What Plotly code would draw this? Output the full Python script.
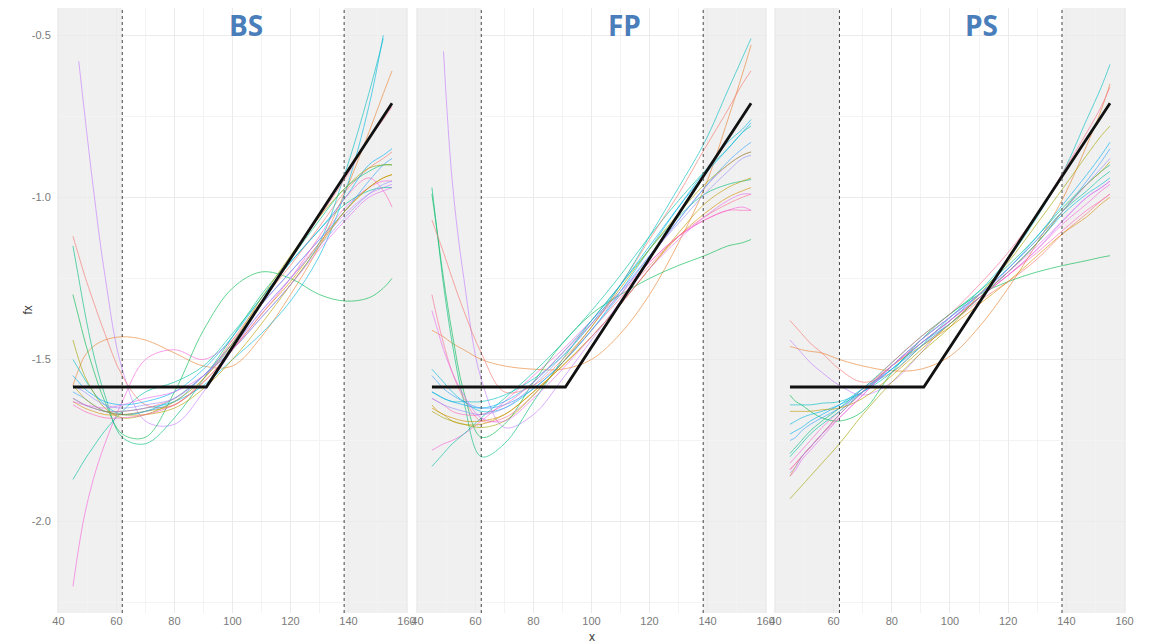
import plotly.graph_objects as go
from plotly.subplots import make_subplots

# x positions at which every fitted curve is evaluated
X_GRID = [45, 47, 49, 52, 56, 62, 70, 80, 90, 100, 110, 120, 130, 139, 147, 152, 155]

# true function: flat, then linear
TRUTH_X = [45, 91, 155]
TRUTH_Y = [-1.585, -1.585, -0.71]

# boundary quantiles (dotted lines, shaded tails)
BOUND_LO = 62
BOUND_HI = 138.5

PANELS = ["BS", "FP", "PS"]

# ggplot-style hue palette, 20 replicates
HUE = ["#F8766D", "#EA8331", "#D89000", "#C09B00", "#A3A500", "#7CAE00", "#39B600",
       "#00BB4E", "#00BF7D", "#00C1A3", "#00BFC4", "#00BAE0", "#00B0F6", "#35A2FF",
       "#9590FF", "#C77CFF", "#E76BF3", "#FA62DB", "#FF62BC", "#FF6C91"]

# replicate (colour index) for each fitted curve, same order in every panel
REPLICATES = [15, 17, 1, 7, 9, 8, 0, 10, 11, 2, 19, 12, 13, 4, 3, 18, 16, 14]

BS_FITS = [
    [None, -0.58, -0.74, -0.97, -1.24, -1.53, -1.69, -1.70, -1.60, -1.47, -1.35, -1.25, -1.14, -1.05, -0.99, -0.97, -0.96],
    [-2.20, -2.08, -1.98, -1.87, -1.76, -1.63, -1.50, -1.47, -1.50, -1.44, -1.33, -1.23, -1.13, -1.03, -0.97, -0.95, -0.95],
    [-1.58, -1.53, -1.49, -1.46, -1.44, -1.43, -1.44, -1.48, -1.52, -1.52, -1.43, -1.30, -1.15, -0.98, -0.80, -0.68, -0.61],
    [-1.30, -1.37, -1.44, -1.53, -1.63, -1.73, -1.74, -1.60, -1.41, -1.28, -1.23, -1.25, -1.30, -1.32, -1.31, -1.28, -1.25],
    [-1.87, -1.84, -1.81, -1.77, -1.72, -1.66, -1.60, -1.57, -1.52, -1.42, -1.31, -1.20, -1.10, -1.02, -0.98, -0.97, -0.97],
    [-1.15, -1.25, -1.35, -1.48, -1.61, -1.74, -1.76, -1.68, -1.56, -1.43, -1.30, -1.19, -1.07, -0.97, -0.92, -0.90, -0.90],
    [-1.12, -1.18, -1.24, -1.32, -1.42, -1.55, -1.64, -1.64, -1.56, -1.44, -1.32, -1.21, -1.09, -0.98, -0.91, -0.88, -0.86],
    [-1.50, -1.53, -1.56, -1.60, -1.64, -1.67, -1.66, -1.62, -1.55, -1.47, -1.37, -1.27, -1.14, -0.92, -0.68, -0.51, None],
    [-1.62, -1.63, -1.64, -1.65, -1.66, -1.66, -1.65, -1.63, -1.58, -1.50, -1.42, -1.32, -1.18, -0.98, -0.72, -0.50, None],
    [-1.63, -1.64, -1.65, -1.66, -1.67, -1.67, -1.66, -1.64, -1.57, -1.47, -1.36, -1.26, -1.14, -1.04, -0.97, -0.94, -0.93],
    [-1.62, -1.63, -1.64, -1.65, -1.66, -1.66, -1.65, -1.62, -1.55, -1.45, -1.33, -1.19, -1.06, -0.94, -0.82, -0.76, -0.72],
    [-1.55, -1.57, -1.59, -1.61, -1.63, -1.64, -1.63, -1.60, -1.53, -1.43, -1.31, -1.20, -1.10, -1.00, -0.90, -0.87, -0.85],
    [-1.60, -1.61, -1.62, -1.64, -1.66, -1.67, -1.66, -1.63, -1.55, -1.45, -1.33, -1.23, -1.13, -1.04, -0.95, -0.90, -0.88],
    [-1.44, -1.50, -1.55, -1.60, -1.65, -1.68, -1.67, -1.63, -1.56, -1.45, -1.31, -1.18, -1.06, -0.97, -0.91, -0.90, -0.90],
    [-1.58, -1.60, -1.62, -1.64, -1.66, -1.67, -1.67, -1.65, -1.59, -1.50, -1.39, -1.27, -1.15, -1.04, -0.97, -0.94, -0.93],
    [-1.64, -1.65, -1.66, -1.67, -1.68, -1.68, -1.67, -1.64, -1.57, -1.47, -1.36, -1.25, -1.12, -1.00, -0.94, -0.98, -1.03],
    [-1.63, -1.635, -1.64, -1.645, -1.65, -1.64, -1.62, -1.60, -1.55, -1.47, -1.37, -1.27, -1.16, -1.07, -1.00, -0.98, -0.97],
    [-1.58, -1.59, -1.60, -1.62, -1.64, -1.65, -1.64, -1.62, -1.55, -1.46, -1.35, -1.25, -1.15, -1.06, -0.99, -0.96, -0.95],
]

FP_FITS = [
    [None, None, -0.55, -0.95, -1.25, -1.56, -1.71, -1.67, -1.56, -1.44, -1.32, -1.19, -1.07, -0.97, -0.90, -0.87, -0.86],
    [-1.78, -1.77, -1.76, -1.75, -1.73, -1.69, -1.63, -1.55, -1.47, -1.38, -1.29, -1.20, -1.12, -1.07, -1.04, -1.03, -1.04],
    [-1.41, -1.42, -1.43, -1.45, -1.47, -1.50, -1.52, -1.53, -1.53, -1.50, -1.42, -1.30, -1.14, -0.97, -0.76, -0.62, -0.53],
    [-0.99, -1.12, -1.25, -1.42, -1.60, -1.74, -1.70, -1.57, -1.45, -1.36, -1.30, -1.25, -1.21, -1.18, -1.15, -1.14, -1.13],
    [-1.83, -1.81, -1.79, -1.76, -1.73, -1.68, -1.62, -1.54, -1.45, -1.35, -1.24, -1.12, -1.01, -0.92, -0.85, -0.80, -0.78],
    [-0.97, -1.12, -1.27, -1.45, -1.63, -1.80, -1.76, -1.63, -1.50, -1.38, -1.27, -1.16, -1.06, -0.99, -0.96, -0.95, -0.945],
    [-1.07, -1.12, -1.17, -1.25, -1.35, -1.48, -1.60, -1.58, -1.50, -1.40, -1.27, -1.13, -0.99, -0.85, -0.73, -0.65, -0.61],
    [-1.60, -1.61, -1.62, -1.63, -1.63, -1.63, -1.61, -1.56, -1.49, -1.39, -1.27, -1.12, -0.97, -0.83, -0.67, -0.57, -0.51],
    [-1.53, -1.55, -1.57, -1.60, -1.63, -1.66, -1.65, -1.59, -1.51, -1.41, -1.29, -1.16, -1.03, -0.92, -0.83, -0.79, -0.76],
    [-1.65, -1.66, -1.67, -1.68, -1.69, -1.69, -1.67, -1.60, -1.52, -1.43, -1.33, -1.22, -1.12, -1.05, -1.00, -0.98, -0.97],
    [-1.30, -1.38, -1.45, -1.54, -1.62, -1.69, -1.68, -1.61, -1.51, -1.41, -1.31, -1.21, -1.12, -1.06, -1.02, -1.00, -0.99],
    [-1.60, -1.61, -1.62, -1.63, -1.64, -1.65, -1.63, -1.57, -1.48, -1.38, -1.27, -1.15, -1.03, -0.93, -0.85, -0.80, -0.77],
    [-1.55, -1.57, -1.59, -1.61, -1.63, -1.65, -1.64, -1.59, -1.51, -1.41, -1.30, -1.18, -1.07, -0.97, -0.89, -0.85, -0.83],
    [-1.66, -1.67, -1.68, -1.69, -1.70, -1.71, -1.69, -1.61, -1.51, -1.40, -1.28, -1.16, -1.05, -0.96, -0.90, -0.87, -0.86],
    [-1.64, -1.66, -1.67, -1.69, -1.70, -1.70, -1.67, -1.60, -1.52, -1.43, -1.33, -1.22, -1.11, -1.02, -0.97, -0.95, -0.94],
    [-1.62, -1.63, -1.64, -1.66, -1.67, -1.67, -1.64, -1.57, -1.48, -1.39, -1.30, -1.20, -1.12, -1.07, -1.04, -1.04, -1.04],
    [-1.35, -1.41, -1.47, -1.54, -1.61, -1.68, -1.69, -1.62, -1.53, -1.43, -1.33, -1.22, -1.13, -1.06, -1.01, -0.99, -0.99],
    [-1.62, -1.63, -1.64, -1.65, -1.66, -1.67, -1.65, -1.58, -1.49, -1.39, -1.29, -1.18, -1.08, -0.99, -0.92, -0.88, -0.87],
]

PS_FITS = [
    [-1.44, -1.46, -1.48, -1.51, -1.54, -1.58, -1.61, -1.57, -1.48, -1.38, -1.31, -1.24, -1.16, -1.07, -1.00, -0.97, -0.95],
    [-1.82, -1.80, -1.78, -1.75, -1.71, -1.66, -1.59, -1.52, -1.45, -1.38, -1.31, -1.24, -1.16, -1.08, -1.02, -0.98, -0.96],
    [-1.46, -1.465, -1.47, -1.475, -1.48, -1.50, -1.52, -1.535, -1.53, -1.49, -1.40, -1.28, -1.14, -1.00, -0.84, -0.73, -0.65],
    [-1.61, -1.63, -1.64, -1.66, -1.68, -1.69, -1.66, -1.54, -1.44, -1.36, -1.30, -1.26, -1.23, -1.21, -1.195, -1.185, -1.18],
    [-1.80, -1.78, -1.76, -1.73, -1.70, -1.66, -1.60, -1.52, -1.44, -1.37, -1.30, -1.22, -1.13, -1.04, -0.98, -0.94, -0.92],
    [-1.79, -1.77, -1.75, -1.72, -1.69, -1.65, -1.59, -1.51, -1.43, -1.36, -1.29, -1.21, -1.12, -1.03, -0.96, -0.92, -0.90],
    [-1.38, -1.40, -1.42, -1.45, -1.48, -1.53, -1.57, -1.54, -1.46, -1.39, -1.32, -1.26, -1.19, -1.11, -1.05, -1.01, -0.99],
    [-1.64, -1.64, -1.64, -1.64, -1.635, -1.63, -1.60, -1.54, -1.46, -1.37, -1.29, -1.19, -1.06, -0.92, -0.76, -0.66, -0.59],
    [-1.70, -1.69, -1.68, -1.67, -1.66, -1.64, -1.60, -1.53, -1.45, -1.39, -1.31, -1.23, -1.14, -1.05, -0.99, -0.96, -0.94],
    [-1.86, -1.83, -1.80, -1.77, -1.73, -1.67, -1.60, -1.52, -1.46, -1.40, -1.33, -1.26, -1.18, -1.11, -1.06, -1.02, -1.00],
    [-1.84, -1.82, -1.80, -1.77, -1.73, -1.67, -1.60, -1.51, -1.43, -1.36, -1.27, -1.17, -1.05, -0.92, -0.80, -0.72, -0.66],
    [-1.73, -1.72, -1.71, -1.69, -1.67, -1.64, -1.59, -1.53, -1.45, -1.38, -1.30, -1.22, -1.12, -1.02, -0.93, -0.87, -0.83],
    [-1.75, -1.74, -1.72, -1.70, -1.68, -1.65, -1.60, -1.53, -1.46, -1.39, -1.31, -1.23, -1.14, -1.04, -0.95, -0.89, -0.85],
    [-1.93, -1.91, -1.89, -1.86, -1.82, -1.76, -1.67, -1.57, -1.48, -1.40, -1.30, -1.20, -1.08, -0.97, -0.87, -0.81, -0.78],
    [-1.66, -1.66, -1.66, -1.66, -1.655, -1.65, -1.62, -1.55, -1.47, -1.39, -1.31, -1.23, -1.14, -1.04, -0.96, -0.92, -0.89],
    [-1.84, -1.82, -1.80, -1.77, -1.73, -1.68, -1.61, -1.52, -1.45, -1.38, -1.31, -1.24, -1.17, -1.10, -1.04, -1.01, -0.99],
    [-1.86, -1.84, -1.81, -1.78, -1.74, -1.68, -1.61, -1.52, -1.44, -1.37, -1.30, -1.23, -1.15, -1.07, -1.00, -0.97, -0.95],
    [-1.85, -1.83, -1.80, -1.77, -1.73, -1.67, -1.60, -1.52, -1.44, -1.37, -1.30, -1.22, -1.13, -1.04, -0.96, -0.91, -0.88],
]

X_TICKS = [40, 60, 80, 100, 120, 140, 160]
Y_TICKS = [-2.0, -1.5, -1.0, -0.5]
Y_TICK_TEXT = ["-2.0", "-1.5", "-1.0", "-0.5"]

X_RANGE = [39.5, 160.5]
Y_RANGE = [-2.282, -0.416]

fig = make_subplots(rows=1, cols=3, shared_yaxes=True, horizontal_spacing=0.007)

for col, fits in enumerate([BS_FITS, FP_FITS, PS_FITS], start=1):
    for rep, ys in zip(REPLICATES, fits):
        fig.add_trace(
            go.Scatter(x=X_GRID, y=ys, mode="lines", connectgaps=False,
                       line=dict(color=HUE[rep], width=1, shape="spline", smoothing=1.0),
                       opacity=0.62, showlegend=False, hoverinfo="skip"),
            row=1, col=col)
    fig.add_trace(
        go.Scatter(x=TRUTH_X, y=TRUTH_Y, mode="lines",
                   line=dict(color="#111111", width=2.8),
                   showlegend=False, hoverinfo="skip"),
        row=1, col=col)

domains = [[0.0, 0.3283], [0.3358, 0.6642], [0.6707, 1.0]]
tick_font = dict(family="Liberation Sans, Arial, sans-serif", size=11, color="#7a7a7a")

shapes = []
for i, dom in enumerate(domains):
    xa = "x" if i == 0 else f"x{i + 1}"
    fig.layout[f"xaxis{'' if i == 0 else i + 1}"].update(
        domain=dom, range=X_RANGE, tickvals=X_TICKS, showgrid=True,
        gridcolor="#ebebeb", gridwidth=1, zeroline=False, showline=False,
        ticks="", tickfont=tick_font,
        minor=dict(dtick=10, tick0=0, showgrid=True, gridcolor="#f3f3f3", gridwidth=0.8),
    )
    fig.layout[f"yaxis{'' if i == 0 else i + 1}"].update(
        range=Y_RANGE, tickvals=Y_TICKS, ticktext=Y_TICK_TEXT, showgrid=True,
        gridcolor="#ebebeb", gridwidth=1, zeroline=False, showline=False,
        ticks="outside", ticklen=3, tickcolor="rgba(0,0,0,0)", tickfont=tick_font,
        showticklabels=(i == 0),
        minor=dict(dtick=0.25, tick0=-0.5, showgrid=True, gridcolor="#f3f3f3", gridwidth=0.8),
    )
    ydom = "y domain" if i == 0 else f"y{i + 1} domain"
    for x0, x1 in [(X_RANGE[0], BOUND_LO), (BOUND_HI, X_RANGE[1])]:
        shapes.append(dict(type="rect", xref=xa, yref=ydom, x0=x0, x1=x1, y0=0, y1=1,
                           fillcolor="#f0f0f0", line=dict(width=0), layer="below"))
    for xb in [BOUND_LO, BOUND_HI]:
        shapes.append(dict(type="line", xref=xa, yref=ydom, x0=xb, x1=xb, y0=0, y1=1,
                           line=dict(color="#444444", width=1, dash="dot"), layer="above"))

annotations = []
title_x = [0.1768, 0.5313, 0.8644]
for name, tx in zip(PANELS, title_x):
    annotations.append(dict(text=f"<b>{name}</b>", xref="paper", yref="paper", x=tx, y=0.972,
                            xanchor="center", yanchor="middle", showarrow=False,
                            font=dict(family="Open Sans, Liberation Sans, sans-serif",
                                      size=28, color="#4a7ebb")))
annotations.append(dict(text="fx", xref="paper", yref="paper", x=-0.0280, y=0.5,
                        textangle=-90, showarrow=False, xanchor="center", yanchor="middle",
                        font=dict(family="Liberation Sans, Arial, sans-serif", size=12, color="#333333")))
annotations.append(dict(text="x", xref="paper", yref="paper", x=0.5005, y=-0.040,
                        showarrow=False, xanchor="center", yanchor="middle",
                        font=dict(family="Liberation Sans, Arial, sans-serif", size=12, color="#333333")))

fig.update_layout(
    width=1150, height=644,
    margin=dict(l=57, r=24, t=8, b=31),
    paper_bgcolor="white", plot_bgcolor="white",
    shapes=shapes, annotations=annotations,
    showlegend=False,
)

fig.write_html("out.html")
